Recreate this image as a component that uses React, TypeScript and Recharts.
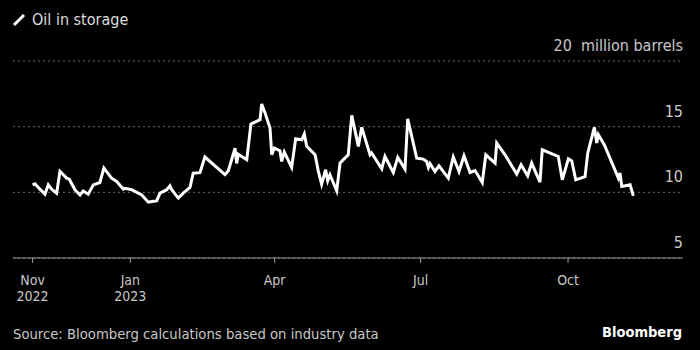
import { LineChart, Line, XAxis, YAxis, CartesianGrid } from "recharts";

// days since 1 Nov 2022
const days = [
  0, 1.5, 4.6, 7.7, 9.8, 11.9, 15, 17.1, 21.3, 22.9, 26.4, 29.6, 31.6, 34.7, 37.9, 42, 44.5, 49.3, 52.5,
  56.6, 57.6, 61.8, 68.1, 72.2, 74.3, 77.4, 79.5, 83.7, 85.7, 86.8, 90.9, 94, 98.2, 100.2, 104.4, 107.5,
  120, 122.1, 126.3, 127.3, 128.3, 133.6, 136.2, 141.9, 142.9, 145, 148.1, 149.2, 150.8, 154.3, 155.4,
  157, 161.6, 164.1, 167.9, 169.5, 171, 176.2, 178.2, 180.3, 182.8, 184.1, 185.5, 189.7, 191.8, 196.9,
  199.1, 203.2, 205.3, 210.5, 211.5, 217.8, 219.8, 225, 227.8, 232.3, 234, 239.6, 243.7, 245.8, 246.9,
  247.9, 251, 253.5, 259.3, 262.4, 266, 269.1, 272.9, 276, 280.5, 282.7, 288.5, 289.5, 294.7, 297.8,
  302, 304.7, 308.8, 311.3, 316.5, 317.9, 327.9, 330.4, 334.2, 336.3, 338.8, 344.6, 346.3, 350.4, 351.9,
  352.9, 356.6, 365.4, 366.4, 367.5, 372.7, 374.7,
];

// million barrels
const storage = [
  10.57, 10.65, 10.24, 9.86, 10.57, 10.24, 9.94, 11.6, 11.08, 11.0, 10.2, 9.8, 10.1, 9.86, 10.57, 10.75,
  11.85, 11.08, 10.83, 10.24, 10.3, 10.2, 9.8, 9.25, 9.3, 9.35, 9.94, 10.2, 10.5, 10.2, 9.56, 9.94, 10.37,
  11.46, 11.5, 12.69, 11.34, 11.64, 13.37, 12.2, 12.9, 12.48, 15.2, 15.53, 16.73, 16.05, 14.9, 12.86,
  13.37, 13.17, 12.35, 13.07, 11.9, 14.08, 14.0, 14.44, 13.5, 12.86, 11.64, 10.63, 11.72, 10.88, 11.34,
  10.12, 12.23, 12.86, 15.86, 13.5, 14.95, 12.86, 13.0, 11.8, 12.73, 11.51, 12.66, 11.77, 15.6, 12.6,
  12.53, 12.35, 11.9, 12.2, 11.59, 12.02, 11.08, 12.69, 11.59, 12.79, 11.51, 11.66, 10.75, 12.86, 12.23,
  13.75, 12.86, 12.23, 11.39, 12.1, 11.26, 12.23, 10.78, 13.24, 12.73, 10.95, 12.56, 12.4, 10.95, 11.2,
  13.0, 14.95, 13.75, 14.39, 13.63, 11.08, 11.47, 10.45, 10.57, 9.73,
];

const xTicks = [0, 61, 151, 242, 334];
const xTickLabels = [["Nov", "2022"], ["Jan", "2023"], ["Apr"], ["Jul"], ["Oct"]];
const yTicks = [5, 10, 15, 20];
const yUnit = "million barrels";

const data = days.map((d, i) => ({ day: d, value: storage[i] }));

const font = "'DejaVu Sans Condensed', 'Liberation Sans Narrow', 'DejaVu Sans', sans-serif";

const XTick = ({ x, y, payload }: any) => {
  const idx = xTicks.indexOf(payload.value);
  const lines = xTickLabels[idx] || [];
  return (
    <g>
      {lines.map((l, i) => (
        <text key={i} x={x} y={y + 20 + i * 16} textAnchor="middle" fill="#c8c8c8" fontSize={14} fontFamily={font}>
          {l}
        </text>
      ))}
    </g>
  );
};

const YTick = ({ x, y, payload }: any) => (
  <text x={x} y={y - 10} textAnchor="end" fill="#c8c8c8" fontSize={16} fontFamily={font}>
    {payload.value === 20 ? `20\u00a0 ${yUnit}` : payload.value}
  </text>
);

export default function App() {
  return (
    <div style={{ position: "fixed", left: 0, top: 0, width: 700, height: 350, background: "#000", fontFamily: font }}>
      <div style={{ position: "absolute", left: 12, top: 10, display: "flex", alignItems: "center", color: "#dcdcdc", fontSize: 16 }}>
        <svg width={14} height={14} style={{ marginRight: 6 }}>
          <line x1={2} y1={12} x2={12} y2={2} stroke="#fff" strokeWidth={3} />
        </svg>
        Oil in storage
      </div>
      <LineChart width={700} height={350} data={data} margin={{ top: 61, right: 7, left: 13, bottom: 62 }}>
        <CartesianGrid horizontal vertical={false} stroke="#6a6a6a" strokeDasharray="2 3" />
        <XAxis
          dataKey="day"
          type="number"
          domain={[-12.2, 405.7]}
          ticks={xTicks}
          tick={<XTick />}
          height={30}
          axisLine={{ stroke: "#9a9a9a" }}
          tickLine={{ stroke: "#9a9a9a" }}
          tickSize={5}
          interval={0}
        />
        <YAxis
          orientation="right"
          type="number"
          domain={[5, 20]}
          ticks={yTicks}
          width={10}
          axisLine={false}
          tickLine={false}
          tickSize={0}
          tickMargin={0}
          tick={<YTick />}
          interval={0}
        />
        <Line type="linear" dataKey="value" stroke="#fff" strokeWidth={3} dot={false} isAnimationActive={false} />
      </LineChart>
      <div style={{ position: "absolute", left: 13, top: 325, color: "#c8c8c8", fontSize: 14.7 }}>
        Source: Bloomberg calculations based on industry data
      </div>
      <div style={{ position: "absolute", right: 18, top: 324, color: "#fff", fontSize: 14.5, fontWeight: "bold" }}>
        Bloomberg
      </div>
    </div>
  );
}
